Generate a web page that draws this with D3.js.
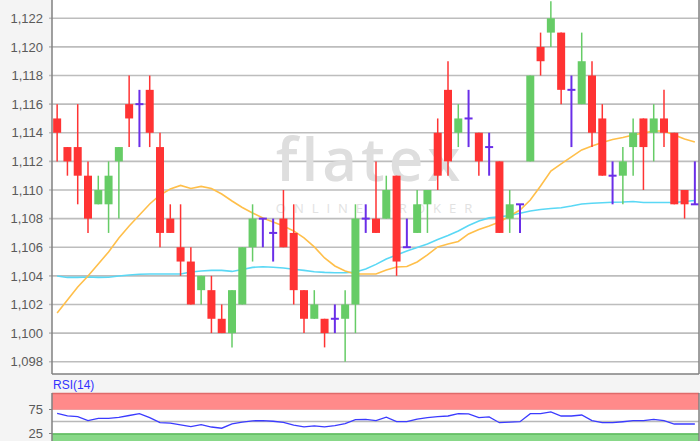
<!DOCTYPE html>
<html><head><meta charset="utf-8">
<script src="https://cdn.jsdelivr.net/npm/d3@7"></script>
<style>html,body{margin:0;padding:0;background:#f4f4f4;}svg{display:block;}</style>
</head><body>
<svg id="c" width="700" height="441"></svg>
<script>
const opens  = [1.115,1.113,1.113,1.111,1.109,1.109,1.112,1.116,1.116,1.117,1.113,1.108,1.106,1.105,1.103,1.103,1.101,1.100,1.102,1.106,1.108,1.107,1.108,1.107,1.103,1.101,1.101,1.101,1.101,1.102,1.108,1.108,1.108,1.111,1.106,1.107,1.109,1.114,1.117,1.114,1.115,1.114,1.113,1.112,1.108,1.109,1.112,1.120,1.121,1.121,1.117,1.116,1.118,1.115,1.111,1.111,1.113,1.115,1.114,1.115,1.114,1.110,1.109];
const highs  = [1.116,1.113,1.116,1.112,1.111,1.112,1.113,1.118,1.117,1.118,1.114,1.109,1.109,1.106,1.104,1.104,1.102,1.103,1.106,1.109,1.108,1.108,1.110,1.109,1.103,1.103,1.101,1.102,1.103,1.109,1.109,1.112,1.111,1.111,1.108,1.110,1.110,1.115,1.119,1.116,1.117,1.114,1.114,1.112,1.110,1.109,1.118,1.121,1.1232,1.121,1.118,1.121,1.119,1.116,1.112,1.113,1.115,1.115,1.116,1.117,1.114,1.110,1.112];
const lows   = [1.112,1.111,1.109,1.107,1.109,1.107,1.108,1.113,1.113,1.113,1.106,1.107,1.104,1.102,1.102,1.100,1.100,1.099,1.102,1.105,1.106,1.105,1.106,1.102,1.100,1.101,1.099,1.100,1.098,1.100,1.107,1.107,1.108,1.104,1.106,1.107,1.107,1.110,1.111,1.113,1.113,1.111,1.111,1.107,1.107,1.107,1.112,1.118,1.120,1.116,1.113,1.116,1.113,1.111,1.109,1.109,1.111,1.110,1.112,1.113,1.109,1.108,1.109];
const closes = [1.114,1.112,1.111,1.108,1.110,1.111,1.113,1.115,1.116,1.114,1.107,1.107,1.105,1.102,1.104,1.101,1.100,1.103,1.106,1.108,1.108,1.107,1.106,1.103,1.101,1.102,1.100,1.101,1.102,1.108,1.108,1.107,1.110,1.105,1.106,1.109,1.110,1.111,1.112,1.115,1.115,1.112,1.113,1.107,1.109,1.109,1.118,1.119,1.122,1.117,1.117,1.119,1.114,1.111,1.111,1.112,1.114,1.113,1.115,1.114,1.109,1.109,1.109];
const maShort = [1.10141,1.10231,1.10322,1.10399,1.10483,1.10567,1.10665,1.10749,1.10825,1.10902,1.10965,1.11007,1.11032,1.11011,1.11025,1.11011,1.10972,1.10923,1.10878,1.10839,1.10805,1.10777,1.10749,1.10714,1.10665,1.10602,1.10525,1.10469,1.10434,1.10413,1.10413,1.10413,1.10441,1.10462,1.10465,1.10497,1.10546,1.10602,1.10623,1.10640,1.10693,1.10724,1.10749,1.10777,1.10818,1.10860,1.10930,1.11028,1.11133,1.11182,1.11231,1.11280,1.11308,1.11332,1.11353,1.11367,1.11384,1.11398,1.11412,1.11412,1.11384,1.11357,1.11336];
const maLong = [1.10399,1.10389,1.10389,1.10392,1.10389,1.10390,1.10399,1.10406,1.10411,1.10413,1.10413,1.10413,1.10413,1.10427,1.10434,1.10438,1.10438,1.10431,1.10445,1.10459,1.10464,1.10460,1.10455,1.10446,1.10438,1.10429,1.10424,1.10422,1.10422,1.10427,1.10448,1.10480,1.10518,1.10546,1.10574,1.10598,1.10623,1.10654,1.10682,1.10714,1.10752,1.10784,1.10805,1.10812,1.10822,1.10837,1.10853,1.10864,1.10871,1.10876,1.10888,1.10902,1.10907,1.10911,1.10914,1.10916,1.10920,1.10913,1.10913,1.10913,1.10913,1.10920,1.10927];
const rsi = [67,61.5,60,52,56.5,56.7,58.5,62.5,66.5,58,47.5,46.5,43,39.5,43.5,38.5,36,45,48.5,51.5,51.7,50.5,48,42.5,39,41,39,41.5,45.5,54,54.6,52,59,49.6,49.6,55,58,60,61.5,66.3,66,58,59.5,47.5,48.5,49.6,66.3,66.3,70,61.5,61.5,63.5,52,47.5,47.5,49.5,51.7,51.7,54.6,51.7,44.8,44.8,44.8];
const priceTicks = [1.098,1.100,1.102,1.104,1.106,1.108,1.110,1.112,1.114,1.116,1.118,1.120,1.122];
const rsiTicks = [25,75];
const rsiLabel = "RSI(14)";

const svg = d3.select("#c");
const W = 700, H = 441;
const L = 52, R = 699;
const idx = d3.range(opens.length);
const x = d3.scaleBand().domain(idx).range([L, 700]).padding(0);
const cx = i => x(i) + x.bandwidth()/2;
const y = d3.scaleLinear().domain([1.098, 1.122]).range([361.7, 18.3]);
const fmt = v => d3.format(".3f")(v).replace(".", ",");

svg.append("rect").attr("width", W).attr("height", H).attr("fill", "#f4f4f4");
svg.append("rect").attr("x", L).attr("y", -2).attr("width", R - L).attr("height", 376).attr("fill", "#fff");

svg.append("g").selectAll("line").data(priceTicks).join("line")
  .attr("x1", L - 3).attr("x2", R).attr("y1", d => y(d)).attr("y2", d => y(d))
  .attr("stroke", "#bdbdbd").attr("stroke-width", 1.6);

svg.append("text").attr("x", 370).attr("y", 181).attr("text-anchor", "middle")
  .attr("font-family", "'Open Sans', Lato, sans-serif").attr("font-size", 60).attr("font-weight", 600)
  .attr("letter-spacing", 4).attr("fill", "#dedede").text("flatex");
svg.append("text").attr("x", 378).attr("y", 213).attr("text-anchor", "middle")
  .attr("font-family", "'Open Sans', Lato, sans-serif").attr("font-size", 13)
  .attr("letter-spacing", 8).attr("fill", "#e2e2e2").text("ONLINE BROKER");

svg.append("g").selectAll("text").data(priceTicks).join("text")
  .attr("x", 43).attr("y", d => y(d)).attr("dy", "0.36em").attr("text-anchor", "end")
  .attr("font-family", "'Liberation Sans', Arial, sans-serif").attr("font-size", 13).attr("fill", "#5a5a5a")
  .text(fmt);

const line = d3.line().x((d, i) => cx(i)).y(d => y(d)).curve(d3.curveLinear);
svg.append("path").datum(maLong).attr("d", line).attr("fill", "none").attr("stroke", "#5ad8f5").attr("stroke-width", 1.6);
svg.append("path").datum(maShort).attr("d", line).attr("fill", "none").attr("stroke", "#ffbf4a").attr("stroke-width", 1.6);

const up = "#66cc66", down = "#ff3333", flat = "#6a2ee8";
const bw = 8;
const g = svg.append("g");
idx.forEach(i => {
  const o = opens[i], c = closes[i], h = highs[i], l = lows[i];
  const col = c > o ? up : (c < o ? down : flat);
  g.append("line").attr("x1", cx(i)).attr("x2", cx(i)).attr("y1", y(h)).attr("y2", y(l))
    .attr("stroke", col).attr("stroke-width", c === o ? 2 : 1.5);
  if (c === o) {
    g.append("line").attr("x1", cx(i) - bw/2).attr("x2", cx(i) + bw/2).attr("y1", y(o)).attr("y2", y(o))
      .attr("stroke", col).attr("stroke-width", 2);
  } else {
    g.append("rect").attr("x", cx(i) - bw/2).attr("width", bw)
      .attr("y", y(Math.max(o, c))).attr("height", Math.abs(y(o) - y(c))).attr("fill", col);
  }
});

svg.append("line").attr("x1", L).attr("x2", L).attr("y1", 0).attr("y2", 374).attr("stroke", "#808080").attr("stroke-width", 1.5);
svg.append("line").attr("x1", L).attr("x2", R).attr("y1", 374).attr("y2", 374).attr("stroke", "#808080").attr("stroke-width", 1.5);
svg.append("line").attr("x1", R).attr("x2", R).attr("y1", 0).attr("y2", 374).attr("stroke", "#808080").attr("stroke-width", 1.5);

const ry = d3.scaleLinear().domain([0, 100]).range([445.5, 397.5]);
const rTop = 393;
svg.append("rect").attr("x", L).attr("y", rTop).attr("width", R - L).attr("height", H - rTop + 2).attr("fill", "#fff");
svg.append("rect").attr("x", L).attr("y", rTop).attr("width", R - L).attr("height", ry(75) - rTop).attr("fill", "#ff8a8a");
svg.append("line").attr("x1", L).attr("x2", R).attr("y1", rTop + 0.5).attr("y2", rTop + 0.5).attr("stroke", "#e06a6a").attr("stroke-width", 1.5);
svg.append("line").attr("x1", L).attr("x2", R).attr("y1", ry(75)).attr("y2", ry(75)).attr("stroke", "#f0a0a0").attr("stroke-width", 1);
svg.append("rect").attr("x", L).attr("y", ry(25)).attr("width", R - L).attr("height", H - ry(25) + 2).attr("fill", "#88d888");
svg.append("line").attr("x1", L).attr("x2", R).attr("y1", ry(25) + 0.5).attr("y2", ry(25) + 0.5).attr("stroke", "#5cba5c").attr("stroke-width", 1.5);
svg.append("line").attr("x1", L).attr("x2", R).attr("y1", ry(50)).attr("y2", ry(50)).attr("stroke", "#b8b8b8").attr("stroke-width", 1.5);
const rline = d3.line().x((d, i) => cx(i)).y(d => ry(d));
svg.append("path").datum(rsi).attr("d", rline).attr("fill", "none").attr("stroke", "#3b3bff").attr("stroke-width", 1.3);
svg.append("line").attr("x1", L).attr("x2", L).attr("y1", rTop).attr("y2", H).attr("stroke", "#808080").attr("stroke-width", 1.5);
svg.append("line").attr("x1", R).attr("x2", R).attr("y1", rTop).attr("y2", H).attr("stroke", "#808080").attr("stroke-width", 1.5);
svg.append("g").selectAll("line").data(rsiTicks).join("line")
  .attr("x1", L - 3).attr("x2", L).attr("y1", d => ry(d)).attr("y2", d => ry(d)).attr("stroke", "#808080");
svg.append("g").selectAll("text").data(rsiTicks).join("text")
  .attr("x", 43).attr("y", d => ry(d)).attr("dy", "0.36em").attr("text-anchor", "end")
  .attr("font-family", "'Liberation Sans', Arial, sans-serif").attr("font-size", 13).attr("fill", "#5a5a5a")
  .text(d => d);
svg.append("text").attr("x", 53).attr("y", 389).attr("font-family", "'Liberation Sans', Arial, sans-serif")
  .attr("font-size", 12).attr("fill", "#3333ff").text(rsiLabel);
</script>
</body></html>
